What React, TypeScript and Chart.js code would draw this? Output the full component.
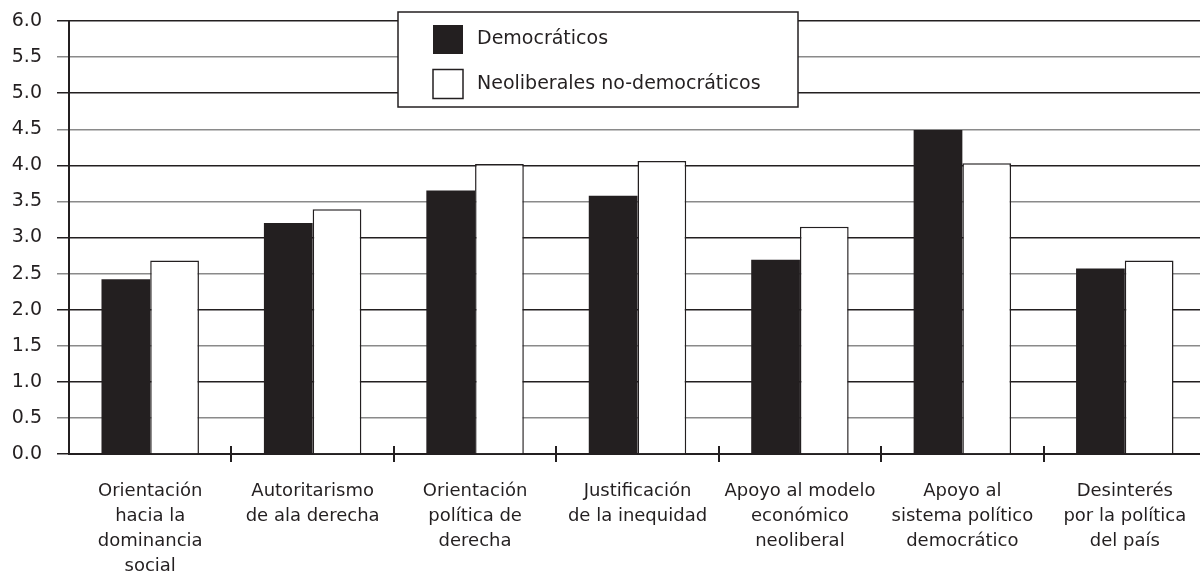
import React, { useEffect, useRef } from 'react';
import { Chart, registerables } from 'chart.js';

Chart.register(...registerables);

const categories: string[][] = [
  ['Orientación', 'hacia la', 'dominancia', 'social'],
  ['Autoritarismo', 'de ala derecha'],
  ['Orientación', 'política de', 'derecha'],
  ['Justificación', 'de la inequidad'],
  ['Apoyo al modelo', 'económico', 'neoliberal'],
  ['Apoyo al', 'sistema político', 'democrático'],
  ['Desinterés', 'por la política', 'del país'],
];
const seriesLabels = ['Democráticos', 'Neoliberales no-democráticos'];
const democraticos = [2.42, 3.2, 3.65, 3.58, 2.69, 4.49, 2.57];
const neoliberales = [2.68, 3.39, 4.02, 4.06, 3.15, 4.03, 2.68];
const yMin = 0;
const yMax = 6;
const yStep = 0.5;

const INK = '#231f20';
const GRAY = '#8a8a8a';
const FONT = "'DejaVu Sans', sans-serif";

const xTickMarks = {
  id: 'xTickMarks',
  afterDraw(chart: any) {
    const x = chart.scales.x;
    const bottom = chart.chartArea.bottom;
    const ctx = chart.ctx;
    const n = chart.data.labels.length;
    ctx.save();
    ctx.strokeStyle = INK;
    ctx.lineWidth = 2;
    for (let i = 0; i < n - 1; i++) {
      const p = Math.round((x.getPixelForValue(i) + x.getPixelForValue(i + 1)) / 2);
      ctx.beginPath();
      ctx.moveTo(p, bottom - 8);
      ctx.lineTo(p, bottom + 8);
      ctx.stroke();
    }
    ctx.restore();
  },
};

const boxLegend = {
  id: 'boxLegend',
  afterDraw(chart: any) {
    const ctx = chart.ctx;
    const bx = 398, by = 12, bw = 400, bh = 95;
    ctx.save();
    ctx.fillStyle = '#ffffff';
    ctx.fillRect(bx, by, bw, bh);
    ctx.strokeStyle = INK;
    ctx.lineWidth = 1.5;
    ctx.strokeRect(bx, by, bw, bh);
    const rows = [25, 69.5];
    chart.data.datasets.forEach((ds: any, i: number) => {
      const sy = rows[i];
      ctx.fillStyle = ds.backgroundColor;
      ctx.fillRect(433, sy, 30, 29);
      if (ds.borderWidth) {
        ctx.strokeStyle = INK;
        ctx.lineWidth = 1.5;
        ctx.strokeRect(433, sy, 30, 29);
      }
      ctx.fillStyle = INK;
      ctx.font = `19px ${FONT}`;
      ctx.textBaseline = 'middle';
      ctx.textAlign = 'left';
      ctx.fillText(ds.label, 477, sy + 14.5);
    });
    ctx.restore();
  },
};

export default function App() {
  const ref = useRef<HTMLCanvasElement>(null);
  useEffect(() => {
    if (!ref.current) return;
    const chart = new Chart(ref.current, {
      type: 'bar',
      data: {
        labels: categories,
        datasets: [
          {
            label: seriesLabels[0],
            data: democraticos,
            backgroundColor: INK,
            borderWidth: 0,
            categoryPercentage: 0.6,
            barPercentage: 1.0,
          },
          {
            label: seriesLabels[1],
            data: neoliberales,
            backgroundColor: '#ffffff',
            borderColor: INK,
            borderWidth: 1.5,
            categoryPercentage: 0.6,
            barPercentage: 1.0,
          },
        ],
      },
      options: {
        animation: false,
        responsive: false,
        layout: { padding: { top: 21, left: 0, right: 0, bottom: 0 } },
        plugins: {
          legend: { display: false },
          tooltip: { enabled: false },
        },
        scales: {
          x: {
            offset: true,
            grid: { display: false, drawTicks: false },
            border: { display: true, color: INK, width: 2 },
            ticks: {
              color: INK,
              font: { family: FONT, size: 18, lineHeight: 25 / 18 },
              maxRotation: 0,
              minRotation: 0,
              autoSkip: false,
              padding: 25,
            },
            afterFit(scale: any) {
              scale.height = 125;
              scale.paddingLeft = 0;
              scale.paddingRight = 0;
            },
          },
          y: {
            min: yMin,
            max: yMax,
            ticks: {
              stepSize: yStep,
              color: INK,
              font: { family: FONT, size: 19 },
              padding: 15,
              callback: (v: any) => Number(v).toFixed(1),
            },
            grid: {
              color: (ctx: any) =>
                ctx.tick && Number.isInteger(ctx.tick.value) ? INK : GRAY,
              lineWidth: 1.5,
              tickLength: 12,
              drawTicks: true,
            },
            border: { display: true, color: INK, width: 2 },
            afterFit(scale: any) {
              scale.width = 69;
              scale.paddingTop = 0;
              scale.paddingBottom = 0;
            },
          },
        },
      },
      plugins: [xTickMarks, boxLegend],
    });
    return () => chart.destroy();
  }, []);
  return (
    <div style={{ position: 'fixed', left: 0, top: 0, width: 1200, height: 579, overflow: 'hidden', background: '#fff' }}>
      <canvas ref={ref} width={1206} height={579} style={{ display: 'block' }} />
    </div>
  );
}
